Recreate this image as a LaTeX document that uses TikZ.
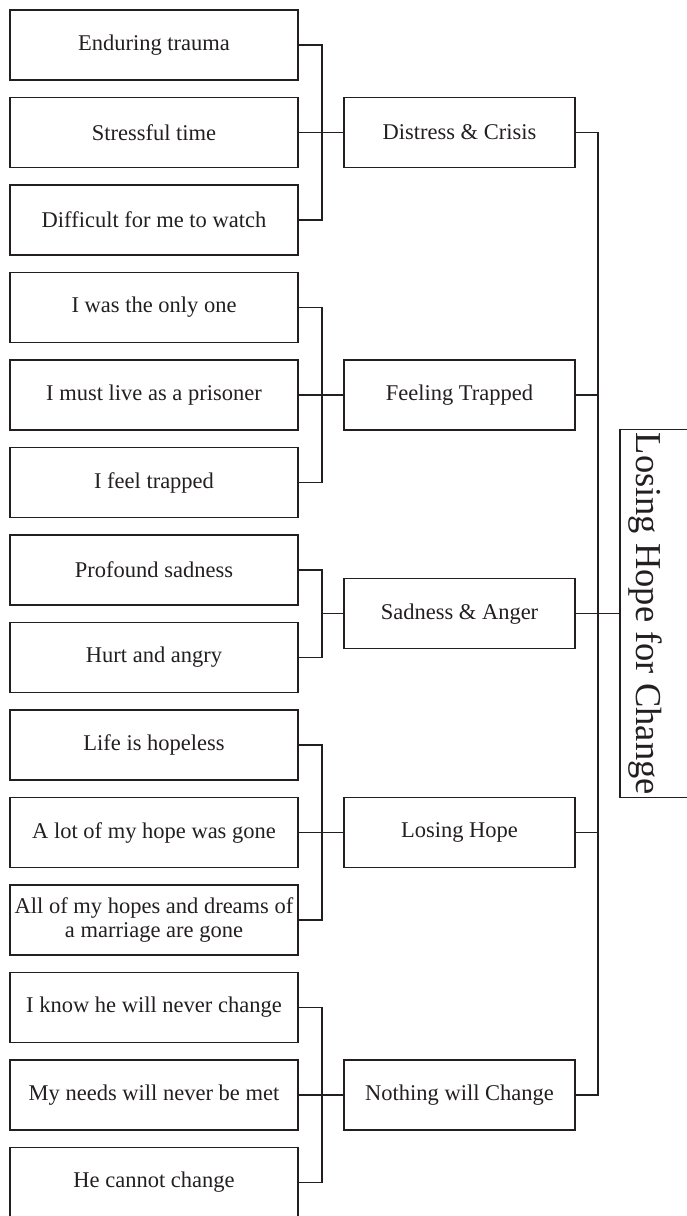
\documentclass[tikz,border=0pt]{standalone}
\usepackage{fontspec}
\setmainfont{Liberation Serif}
\usepackage{tikz}
\usetikzlibrary{positioning}
\usetikzlibrary{calc}
\definecolor{ink}{HTML}{231F20}
\tikzset{x = 1pt, y = 1pt, node distance = 17.5pt and 46pt,
  box/.style = {draw = ink, text = ink, line width = 1.2pt, outer sep = 0pt,
    inner sep = 2pt, align = center, font = \fontsize{22.5}{24}\selectfont},
  leaf/.style = {box, minimum width = 288pt, minimum height = 70pt},
  theme/.style = {box, minimum width = 231pt, minimum height = 70pt},
  root/.style = {draw = ink, text = ink, line width = 1.1pt, outer sep = 0pt,
    rotate = -90, anchor = south, minimum width = 368pt, inner xsep = 0pt,
    inner ysep = 2pt, text height = 50pt, text depth = 14pt,
    font = \fontsize{36.5}{40}\selectfont},
  link/.style = {draw = ink, line width = 1.2pt}}

\begin{document}
\begin{tikzpicture}[y = -1pt]
    \useasboundingbox (0, 0) rectangle (686, 1216);
    % first column
    \node [leaf] (d1) at (154, 45) {Enduring trauma};
    \node [leaf, below = of d1] (d2) {Stressful time};
    \node [leaf, below = of d2] (d3) {Difficult for me to watch};
    \node [leaf, below = of d3] (f1) {I was the only one};
    \node [leaf, below = of f1] (f2) {I must live as a prisoner};
    \node [leaf, below = of f2] (f3) {I feel trapped};
    \node [leaf, below = of f3] (s1) {Profound sadness};
    \node [leaf, below = of s1] (s2) {Hurt and angry};
    \node [leaf, below = of s2] (l1) {Life is hopeless};
    \node [leaf, below = of l1] (l2) {A lot of my hope was gone};
    \node [leaf, below = of l2] (l3) {All of my hopes and dreams of\\a marriage are gone};
    \node [leaf, below = of l3] (n1) {I know he will never change};
    \node [leaf, below = of n1] (n2) {My needs will never be met};
    \node [leaf, below = of n2] (n3) {He cannot change};
    % second column
    \node [theme, right = of d2] (d) {Distress \& Crisis};
    \node [theme, right = of f2] (f) {Feeling Trapped};
    \node [theme, anchor = west] (s) at ($(s1.east)!0.5!(s2.east) + (46, 0)$) {Sadness \& Anger};
    \node [theme, right = of l2] (l) {Losing Hope};
    \node [theme, right = of n2] (n) {Nothing will Change};
    % root
    \node [root] (h) at ($(s.east) + (45, 0)$) {Losing Hope for Change};
    % paths
    \draw [link] (d1.east) -- ++(24, 0) |- (d3.east);
    \draw [link] (d2.east) -- (d.west);
    \draw [link] (f1.east) -- ++(24, 0) |- (f3.east);
    \draw [link] (f2.east) -- (f.west);
    \draw [link] (s1.east) -- ++(24, 0) coordinate (sb) |- (s2.east);
    \draw [link] (s.west) -- (s.west -| sb);
    \draw [link] (l1.east) -- ++(24, 0) |- (l3.east);
    \draw [link] (l2.east) -- (l.west);
    \draw [link] (n1.east) -- ++(24, 0) |- (n3.east);
    \draw [link] (n2.east) -- (n.west);
    % trunk
    \draw [link] (d.east) -- ++(23, 0) coordinate (tr) |- (n.east);
    \draw [link] (f.east) -- (f.east -| tr);
    \draw [link] (l.east) -- (l.east -| tr);
    \draw [link] (s.east) -- (h.south);
\end{tikzpicture}
\end{document}
